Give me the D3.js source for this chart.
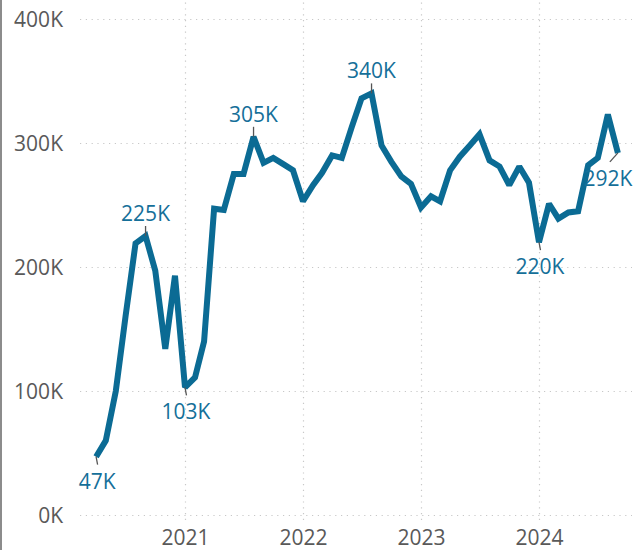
<!DOCTYPE html>
<html>
<head>
<meta charset="utf-8">
<script src="https://cdn.jsdelivr.net/npm/d3@7"></script>
<style>
  html, body { margin: 0; padding: 0; background: #ffffff; }
  svg { display: block; }
  text { font-family: "Open Sans", "Noto Sans", sans-serif; }
</style>
</head>
<body>
<svg id="chart" width="644" height="550"></svg>
<script>
// Monthly totals (thousands), first month April 2020
const startMonth = "2020-04";
const values = [
  47, 60, 100, 160, 219, 225, 197, 134, 193,                 // 2020 Apr–Dec
  103, 111, 140, 247, 246, 275, 275, 305, 284, 288, 283, 278, // 2021
  253, 266, 276, 290, 288, 313, 336, 340, 298, 285, 273, 267, // 2022
  248, 257, 253, 278, 289, 298, 307, 286, 281, 266, 281, 268, // 2023
  220, 251, 239, 244, 245, 282, 288, 323, 292                 // 2024 Jan–Sep
];
const yTicks = [0, 100, 200, 300, 400];
const yearTicks = ["2021", "2022", "2023", "2024"];
// Highlighted months and which side of the line their label sits on
const callouts = [
  { month: "2020-04", side: "below" },
  { month: "2020-09", side: "above" },
  { month: "2021-01", side: "below" },
  { month: "2021-08", side: "above" },
  { month: "2022-08", side: "above" },
  { month: "2024-01", side: "below" },
  { month: "2024-09", side: "belowLeft" }
];

const parseMonth = d3.utcParse("%Y-%m");
const start = parseMonth(startMonth);
const dates = values.map((_, i) => d3.utcMonth.offset(start, i));
const data = dates.map((d, i) => ({ date: d, value: values[i] }));

const lineColor = "#0b6b94";
const labelColor = "#156f99";
const axisColor = "#595959";
const gridColor = "#c8c8c8";

const svg = d3.select("#chart");

const x = d3.scaleUtc()
  .domain([d3.utcParse("%Y")("2021"), d3.utcParse("%Y")("2024")])
  .range([185, 539]);
const y = d3.scaleLinear().domain([0, 400]).range([515, 19]);

// left border line
svg.append("line")
  .attr("x1", 1).attr("x2", 1).attr("y1", 0).attr("y2", 550)
  .attr("stroke", "#8c8c8c").attr("stroke-width", 2);

// horizontal gridlines and value axis
const yAxis = d3.axisLeft(y)
  .tickValues(yTicks)
  .tickSize(-(632 - 80))
  .tickPadding(16)
  .tickFormat(d => d + "K");
const gy = svg.append("g").attr("transform", "translate(80,0)").call(yAxis);
gy.select(".domain").remove();
gy.selectAll(".tick line")
  .attr("stroke", gridColor).attr("stroke-width", 1.2)
  .attr("stroke-dasharray", "1.2,4.6");
gy.selectAll(".tick text")
  .attr("fill", axisColor).attr("font-size", 21).attr("x", -17)
  .attr("dy", "0.36em");

// vertical year gridlines and labels
const yearDates = yearTicks.map(d3.utcParse("%Y"));
const xAxis = d3.axisBottom(x)
  .tickValues(yearDates)
  .tickSize(-520)
  .tickPadding(12)
  .tickFormat(d3.utcFormat("%Y"));
const gx = svg.append("g").attr("transform", "translate(0,520)").call(xAxis);
gx.select(".domain").remove();
gx.selectAll(".tick line")
  .attr("stroke", gridColor).attr("stroke-width", 1.2)
  .attr("stroke-dasharray", "1.2,4.6");
gx.selectAll(".tick text")
  .attr("fill", axisColor).attr("font-size", 21).attr("y", 24.5)
  .attr("dy", 0);

// main line
const line = d3.line().x(d => x(d.date)).y(d => y(d.value));
svg.append("path")
  .datum(data)
  .attr("d", line)
  .attr("fill", "none")
  .attr("stroke", lineColor)
  .attr("stroke-width", 6)
  .attr("stroke-linejoin", "miter")
  .attr("stroke-miterlimit", 2)
  .attr("stroke-linecap", "butt");

// value callouts with leader ticks
const fmtMonth = d3.utcFormat("%Y-%m");
const byMonth = new Map(data.map(d => [fmtMonth(d.date), d]));
const gc = svg.append("g");
callouts.forEach(c => {
  const d = byMonth.get(c.month);
  const px = x(d.date), py = y(d.value);
  let x2, y2, tx, ty;
  if (c.side === "above") {
    x2 = px; y2 = py - 10; tx = px; ty = y2 - 5;
  } else if (c.side === "below") {
    x2 = px + 1.5; y2 = py + 8; tx = px + 1; ty = y2 + 24;
  } else {
    x2 = px - 8; y2 = py + 9; tx = px - 10; ty = py + 33;
  }
  gc.append("line")
    .attr("x1", px).attr("y1", py).attr("x2", x2).attr("y2", y2)
    .attr("stroke", "#555555").attr("stroke-width", 1.3);
  gc.append("text")
    .attr("x", tx).attr("y", ty)
    .attr("text-anchor", "middle")
    .attr("font-size", 21)
    .attr("fill", labelColor)
    .text(Math.round(d.value) + "K");
});
</script>
</body>
</html>
